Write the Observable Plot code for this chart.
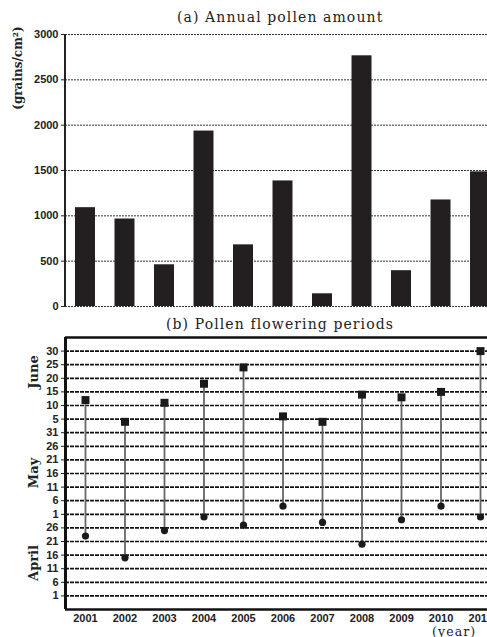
<!DOCTYPE html>
<html>
<head>
<meta charset="utf-8">
<script src="https://cdn.jsdelivr.net/npm/d3@7"></script>
<script src="https://cdn.jsdelivr.net/npm/@observablehq/plot@0.6"></script>
<style>
html, body { margin: 0; padding: 0; background: #fff; overflow: hidden; }
#wrap { position: relative; width: 487px; height: 637px; overflow: hidden; }
#wrap > svg { position: absolute; left: 0; margin: 0; max-width: none !important; }
.ttl { position: absolute; font-family: "DejaVu Serif", serif; font-size: 14px; line-height: 1; letter-spacing: 1.1px; color: #222; white-space: nowrap; }
.side { position: absolute; font-family: "DejaVu Serif", serif; font-weight: bold; font-size: 12px; color: #222; white-space: nowrap; transform: translate(-50%, -50%) rotate(-90deg); }
</style>
</head>
<body>
<div id="wrap"></div>
<script>
// ---- data ----
const years = ["2001","2002","2003","2004","2005","2006","2007","2008","2009","2010","2011"];
const pollenAmount = [1090, 965, 460, 1935, 680, 1385, 140, 2765, 395, 1175, 1485];
// days counted from April 1 (April 1 = 0, May 1 = 30, June 1 = 61)
const startDay = [22, 14, 24, 29, 26, 33, 27, 19, 28, 33, 29];
const endDay   = [72, 64, 71, 78, 84, 66, 64, 74, 73, 75, 90];
const amountTicks = [0, 500, 1000, 1500, 2000, 2500, 3000];
const dayTicks = [0,5,10,15,20,25,30,35,40,45,50,55,60,65,70,75,80,85,90];
const dayTickLabels = ["1","6","11","16","21","26","1","6","11","16","21","26","31","5","10","15","20","25","30"];
const months = ["April","May","June"];
const monthCenters = [12, 45, 82];

const amountData = years.map((y, i) => ({year: y, value: pollenAmount[i]}));
const periodData = years.map((y, i) => ({year: y, start: startDay[i], end: endDay[i]}));
const labelOf = new Map(dayTicks.map((d, i) => [d, dayTickLabels[i]]));

const wrap = document.getElementById("wrap");
const tickFont = {fontFamily: "'Liberation Sans', Arial, sans-serif", fontWeight: "bold", fontSize: "11px"};

const xScale = {type: "band", domain: years, range: [65, 500], paddingInner: 0.494, paddingOuter: 0.253, align: 0.5, round: false};

// ---- (a) bar chart ----
const chartA = Plot.plot({
  width: 500, height: 315,
  marginTop: 34, marginBottom: 9, marginLeft: 65, marginRight: 0,
  style: {...tickFont, color: "#222", background: "transparent"},
  x: {...xScale, axis: null},
  y: {domain: [0, 3000], ticks: amountTicks, tickSize: 4, tickPadding: 3, tickFormat: d3.format("d"), label: null},
  marks: [
    Plot.ruleY(amountTicks, {stroke: "#333", strokeWidth: 1, strokeDasharray: "2,1"}),
    Plot.barY(amountData, {x: "year", y: "value", fill: "#231f20"})
  ]
});
chartA.style.top = "0px";
chartA.style.maxWidth = "none";
wrap.appendChild(chartA);

// ---- (b) flowering periods ----
const chartB = Plot.plot({
  width: 500, height: 307,
  marginTop: 7, marginBottom: 28, marginLeft: 65, marginRight: 0,
  style: {...tickFont, color: "#222", background: "transparent"},
  x: {...xScale, tickSize: 0, tickPadding: 5, label: null},
  y: {domain: [-5, 95], ticks: dayTicks, tickSize: 4, tickPadding: 3, tickFormat: d => labelOf.get(d), label: null},
  marks: [
    Plot.ruleY(dayTicks, {stroke: "#111", strokeWidth: 1.7, strokeDasharray: "4,1"}),
    Plot.ruleY([-5, 95], {stroke: "#111", strokeWidth: 2.4}),
    Plot.ruleX(periodData, {x: "year", y1: "start", y2: "end", stroke: "#666", strokeWidth: 1.8}),
    Plot.dot(periodData, {x: "year", y: "start", r: 3.6, fill: "#1a1a1a", stroke: "none"}),
    Plot.dot(periodData, {x: "year", y: "end", r: 4.5, symbol: "square", fill: "#1a1a1a", stroke: "none"})
  ]
});
chartB.style.top = "330px";
chartB.style.maxWidth = "none";
wrap.appendChild(chartB);

// left axis lines
const axA = document.createElement("div");
axA.style.cssText = "position:absolute;left:64px;top:34px;width:2px;height:272px;background:#222;";
wrap.appendChild(axA);
const axB = document.createElement("div");
axB.style.cssText = "position:absolute;left:64px;top:337px;width:2.5px;height:272px;background:#111;";
wrap.appendChild(axB);

// ---- text ----
function addText(cls, txt, css) {
  const d = document.createElement("div");
  d.className = cls; d.textContent = txt; d.style.cssText += css;
  wrap.appendChild(d);
  return d;
}
addText("ttl", "(a) Annual pollen amount", "left:177px;top:10px;");
addText("ttl", "(b) Pollen flowering periods", "left:166px;top:317px;");
addText("ttl", "(year)", "left:432px;top:626px;font-size:12.5px;");
addText("side", "(grains/cm²)", "left:18px;top:68px;");
const yb = d3.scaleLinear().domain([-5, 95]).range([609, 337]);
months.forEach((m, i) => addText("side", m, `left:33px;top:${yb(monthCenters[i])}px;font-size:13px;`));
</script>
</body>
</html>
